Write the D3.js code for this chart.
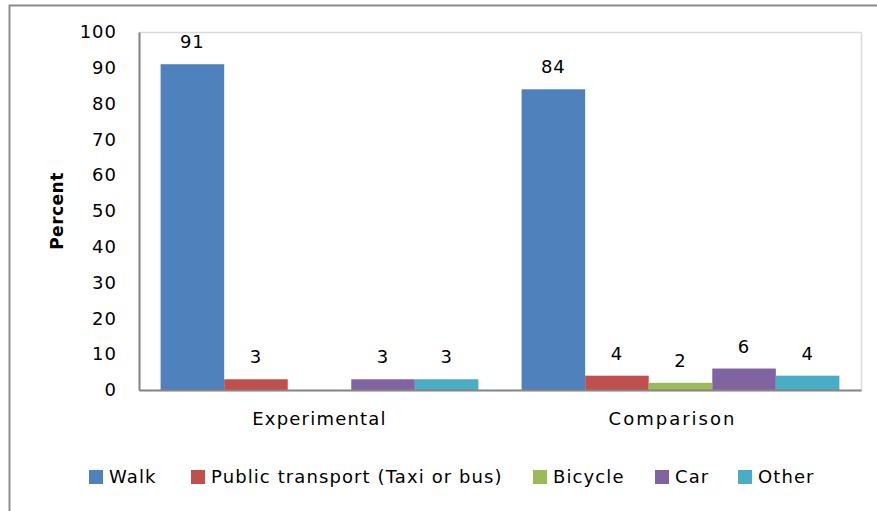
<!DOCTYPE html>
<html>
<head>
<meta charset="utf-8">
<script src="https://cdn.jsdelivr.net/npm/d3@7"></script>
<style>
  body { margin: 0; background: #fff; }
  text { font-family: "DejaVu Sans", Verdana, sans-serif; fill: #000; }
</style>
</head>
<body>
<div id="chart"></div>
<script>
"use strict"

// data
const groups = ["Experimental", "Comparison"];
const modes = ["Walk", "Public transport (Taxi or bus)", "Bicycle", "Car", "Other"];
const experimental = [91, 3, 0, 3, 3];
const comparison = [84, 4, 2, 6, 4];
const yTicks = [0, 10, 20, 30, 40, 50, 60, 70, 80, 90, 100];
const colors = ["#4F81BD", "#C0504D", "#9BBB59", "#8064A2", "#4BACC6"];

const W = 877, H = 511;
const margin = {top: 32, right: 16, bottom: 121, left: 139};
const width = W - margin.left - margin.right,
  height = H - margin.top - margin.bottom;

const svg = d3.select("#chart").append("svg")
  .attr("width", W)
  .attr("height", H);

// outer frame (only top and left show in the crop)
svg.append("path")
  .attr("d", "M9.5," + H + "V5.5H" + W)
  .attr("fill", "none")
  .attr("stroke", "#8c8c8c")
  .attr("stroke-width", 2);

const g = svg.append("g")
  .attr("transform", "translate(" + margin.left + "," + margin.top + ")");

// plot area border
g.append("rect")
  .attr("x", 0.5).attr("y", 0.5)
  .attr("width", width).attr("height", height)
  .attr("fill", "none")
  .attr("stroke", "#d9d9d9")
  .attr("stroke-width", 1.5);

const x0 = d3.scaleBand().domain(groups).range([0, width]);
const x1 = d3.scaleBand().domain(modes)
  .range([0, x0.bandwidth()])
  .paddingOuter(0.34).paddingInner(0);
const y = d3.scaleLinear().domain([0, 100]).range([height, 0]);

const values = {"Experimental": experimental, "Comparison": comparison};

const grp = g.selectAll(".grp")
  .data(groups)
  .enter().append("g")
  .attr("transform", d => "translate(" + x0(d) + ",0)");

grp.selectAll("rect")
  .data(gname => modes.map((m, i) => ({mode: m, value: values[gname][i], i: i})))
  .enter().append("rect")
  .attr("x", d => x1(d.mode))
  .attr("y", d => y(d.value))
  .attr("width", x1.bandwidth())
  .attr("height", d => height - y(d.value))
  .attr("fill", d => colors[d.i]);

// value labels (none for zero)
grp.selectAll(".lbl")
  .data(gname => modes.map((m, i) => ({mode: m, value: values[gname][i]})).filter(d => d.value > 0))
  .enter().append("text")
  .attr("x", d => x1(d.mode) + x1.bandwidth() / 2)
  .attr("y", d => y(d.value) - 16)
  .attr("text-anchor", "middle")
  .style("font-size", "18px")
  .style("letter-spacing", "1px")
  .text(d => d.value);

// y axis
const yAxis = g.append("g")
  .call(d3.axisLeft(y).tickValues(yTicks).tickSize(0).tickPadding(22));
yAxis.select(".domain").attr("stroke", "#868686").attr("stroke-width", 2);
yAxis.selectAll("text").style("font-size", "18px").style("letter-spacing", "1px").attr("fill", "#000");

// x axis
const xAxis = g.append("g")
  .attr("transform", "translate(0," + height + ")")
  .call(d3.axisBottom(x0).tickSize(0).tickPadding(22));
xAxis.select(".domain").attr("stroke", "#868686").attr("stroke-width", 2);
xAxis.selectAll("text").style("font-size", "18px").style("letter-spacing", "1.2px").attr("fill", "#000");
// the second category label sits a little left of its band centre, a bit wider
xAxis.selectAll(".tick text").filter(d => d === "Comparison")
  .attr("dx", -8).style("letter-spacing", "2px");

// y title
svg.append("text")
  .attr("transform", "translate(63,211) rotate(-90)")
  .attr("text-anchor", "middle")
  .style("font-size", "17px")
  .style("font-weight", "bold")
  .style("letter-spacing", "0.5px")
  .text("Percent");

// legend
const legendX = [89, 191, 533, 655, 738];
const legend = svg.append("g").attr("transform", "translate(0,477)");
const item = legend.selectAll("g")
  .data(modes)
  .enter().append("g")
  .attr("transform", (d, i) => "translate(" + legendX[i] + ",0)");
item.append("rect")
  .attr("x", 0).attr("y", -7)
  .attr("width", 14).attr("height", 14)
  .attr("fill", (d, i) => colors[i]);
item.append("text")
  .attr("x", 20).attr("y", 6)
  .style("font-size", "18px")
  .style("letter-spacing", "1.1px")
  .text(d => d);
</script>
</body>
</html>
